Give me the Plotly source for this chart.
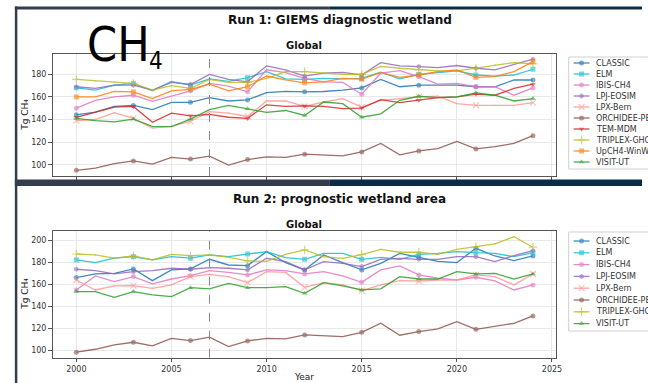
import plotly.graph_objects as go

# ---------------- data ----------------
years = [2000, 2001, 2002, 2003, 2004, 2005, 2006, 2007, 2008, 2009, 2010, 2011, 2012,
         2013, 2014, 2015, 2016, 2017, 2018, 2019, 2020, 2021, 2022, 2023, 2024]

run1_models = ["CLASSIC", "ELM", "IBIS-CH4", "LPJ-EOSIM", "LPX-Bern", "ORCHIDEE-PEAT",
               "TEM-MDM", "TRIPLEX-GHG", "UpCH4-WinWAD", "VISIT-UT"]
run2_models = ["CLASSIC", "ELM", "IBIS-CH4", "LPJ-EOSIM", "LPX-Bern", "ORCHIDEE-PEAT",
               "TRIPLEX-GHG", "VISIT-UT"]

run1_classic = [144.2, 146.6, 151.6, 152.5, 148.7, 155.2, 155.2, 159.4, 156.4, 157.3, 163.9, 165.0, 164.5,
                164.8, 166.0, 168.0, 175.5, 169.0, 170.4, 170.4, 170.4, 169.0, 169.0, 175.0, 175.0]
run1_elm = [168.0, 166.0, 170.4, 172.0, 165.4, 173.7, 170.4, 176.0, 173.7, 177.0, 182.4, 176.0, 175.5,
            176.4, 176.0, 176.4, 182.0, 176.0, 180.0, 181.8, 183.0, 179.4, 178.5, 179.4, 184.5]
run1_ibis = [150.0, 157.0, 160.0, 161.5, 156.0, 161.0, 165.4, 172.0, 169.5, 164.5, 184.0, 181.5, 176.4,
             173.4, 172.8, 162.4, 181.0, 183.3, 178.0, 171.3, 172.0, 169.0, 169.0, 161.5, 168.0]
run1_lpj = [169.0, 167.5, 170.4, 170.4, 166.0, 172.8, 171.0, 180.0, 175.5, 173.4, 187.5, 184.0, 178.5,
            181.0, 181.8, 179.4, 190.4, 187.5, 186.9, 186.0, 187.8, 185.4, 184.0, 188.4, 193.4]
run1_lpx = [139.0, 140.0, 146.0, 141.0, 132.5, 134.0, 138.5, 147.0, 145.7, 142.7, 156.4, 156.4, 151.6,
            155.5, 158.5, 151.0, 157.0, 158.5, 160.0, 160.6, 154.0, 152.5, 152.5, 152.5, 155.0]
run1_orchidee = [95.0, 97.0, 101.0, 103.3, 100.5, 106.4, 105.0, 107.5, 99.7, 104.5, 107.0, 106.4, 109.3,
                 108.7, 107.8, 111.3, 118.8, 108.7, 112.2, 114.3, 120.6, 114.0, 116.0, 118.8, 125.7]
run1_tem = [142.0, 146.6, 151.0, 151.6, 137.6, 145.7, 143.3, 144.5, 142.0, 141.0, 153.0, 151.6, 152.0,
            151.6, 149.6, 150.1, 157.6, 155.0, 157.0, 159.4, 160.0, 162.4, 161.5, 167.5, 171.3]
run1_triplex = [175.5, 174.3, 173.0, 172.0, 166.0, 170.0, 167.5, 175.5, 172.8, 172.8, 176.4, 182.4, 182.4,
                181.0, 180.0, 180.0, 187.0, 185.4, 184.0, 183.0, 183.0, 185.4, 188.4, 190.4, 189.3]
run1_upch4 = [160.0, 160.0, 165.0, 164.5, 158.5, 165.4, 166.6, 171.3, 165.4, 169.0, 178.5, 175.0, 172.5,
              173.4, 176.4, 175.8, 181.5, 177.3, 179.4, 182.4, 184.0, 177.3, 178.0, 182.4, 191.3]
run1_visit = [141.0, 139.0, 138.0, 140.4, 134.0, 133.7, 140.4, 148.7, 152.5, 149.6, 146.3, 148.0, 143.6,
              155.5, 154.0, 142.0, 145.0, 157.0, 160.6, 159.4, 160.0, 163.6, 161.5, 156.4, 158.5]

run2_classic = [166.3, 169.6, 170.2, 174.2, 163.5, 173.3, 174.2, 183.0, 177.8, 177.2, 190.0, 180.0, 173.3,
                187.0, 180.0, 173.3, 179.3, 188.4, 184.8, 181.0, 180.0, 193.0, 186.0, 181.8, 186.0]
run2_elm = [182.4, 180.0, 184.0, 185.4, 182.4, 185.4, 184.0, 187.0, 185.4, 187.8, 190.0, 184.5, 183.0,
            188.4, 188.4, 183.0, 184.8, 183.0, 187.5, 188.4, 190.0, 189.0, 188.4, 185.4, 189.0]
run2_ibis = [155.0, 167.8, 162.6, 167.2, 160.5, 165.0, 168.0, 172.6, 171.0, 168.7, 173.3, 172.6, 169.6,
             171.7, 167.8, 162.0, 173.3, 176.9, 168.7, 165.7, 164.1, 166.6, 163.2, 155.0, 159.6]
run2_lpj = [173.9, 172.6, 169.6, 171.7, 172.6, 174.8, 173.9, 175.4, 174.8, 173.3, 183.9, 180.9, 173.3,
            180.9, 179.3, 176.3, 183.0, 183.9, 183.0, 183.0, 185.4, 185.4, 180.9, 186.3, 190.9]
run2_lpx = [164.1, 155.0, 158.7, 159.0, 156.5, 159.6, 167.2, 169.3, 167.2, 161.7, 171.7, 171.0, 157.4,
            161.7, 159.6, 154.4, 159.6, 163.5, 163.2, 164.1, 164.1, 168.7, 167.2, 159.6, 169.6]
run2_orchidee = [98.2, 100.9, 104.9, 107.3, 104.0, 110.9, 108.8, 111.9, 103.3, 108.5, 110.9, 110.3, 114.0,
                 113.4, 112.5, 116.4, 124.6, 113.7, 117.0, 119.5, 126.0, 119.1, 121.6, 124.6, 131.3]
run2_triplex = [187.8, 187.0, 184.0, 186.0, 182.4, 187.5, 186.3, 187.0, 184.8, 181.5, 181.0, 187.5, 191.5,
                185.4, 183.9, 187.2, 192.0, 189.4, 189.4, 187.5, 192.0, 194.5, 197.0, 203.6, 194.0]
run2_visit = [153.5, 153.5, 148.3, 153.5, 150.5, 149.0, 157.1, 156.0, 161.0, 157.1, 157.1, 158.0, 152.0,
              161.7, 158.7, 155.0, 156.0, 167.2, 165.0, 165.0, 171.7, 169.6, 170.2, 165.0, 169.6]

run1_values = [run1_classic, run1_elm, run1_ibis, run1_lpj, run1_lpx, run1_orchidee,
               run1_tem, run1_triplex, run1_upch4, run1_visit]
run2_values = [run2_classic, run2_elm, run2_ibis, run2_lpj, run2_lpx, run2_orchidee,
               run2_triplex, run2_visit]

x_ticks = [2000, 2005, 2010, 2015, 2020, 2025]
y1_ticks = [100, 120, 140, 160, 180]
y2_ticks = [100, 120, 140, 160, 180, 200]
split_year = 2007
marker_every = 3

# ---------------- styles ----------------
colors = {"CLASSIC": "#1f77b4", "ELM": "#17becf", "IBIS-CH4": "#e377c2", "LPJ-EOSIM": "#9467bd",
          "LPX-Bern": "#ff9896", "ORCHIDEE-PEAT": "#8c564b", "TEM-MDM": "#d62728",
          "TRIPLEX-GHG": "#bcbd22", "UpCH4-WinWAD": "#ff7f0e", "VISIT-UT": "#2ca02c"}
symbols = {"CLASSIC": "circle", "ELM": "square", "IBIS-CH4": "circle", "LPJ-EOSIM": "hexagon",
           "LPX-Bern": "x-thin", "ORCHIDEE-PEAT": "circle", "TEM-MDM": "triangle-down",
           "TRIPLEX-GHG": "cross-thin", "UpCH4-WinWAD": "square", "VISIT-UT": "triangle-up"}

W, H = 648, 383
FONT = "DejaVu Sans"
GRAY_DARK = "#343d4c"
NAVY = "#0b2c47"


def px(x):
    return x / W


def py(y):
    return 1 - y / H


fig = go.Figure()

msizes = [5 if (yr - years[0]) % marker_every == 0 else 0 for yr in years]


def add_series(models, values, xa, ya):
    for m, v in zip(models, values):
        sym = symbols[m]
        thin = sym.endswith("thin")
        fig.add_trace(go.Scatter(
            x=years, y=v, mode="lines+markers", name=m, showlegend=False,
            xaxis=xa, yaxis=ya, opacity=0.85,
            line=dict(color=colors[m], width=1.3),
            marker=dict(symbol=sym, size=[s + (1 if thin else 0) for s in msizes],
                        color=colors[m],
                        line=dict(color=colors[m], width=1.2 if thin else 0)),
            hoverinfo="skip"))


add_series(run1_models, run1_values, "x", "y")
add_series(run2_models, run2_values, "x2", "y2")

# ---------------- custom legends (pixel-space overlay axis) ----------------
def add_legend(models, y0, step):
    for i, m in enumerate(models):
        yy = y0 + i * step
        sym = symbols[m]
        thin = sym.endswith("thin")
        fig.add_trace(go.Scatter(
            x=[579, 587, 595], y=[yy, yy, yy], mode="lines+markers", showlegend=False,
            xaxis="x3", yaxis="y3", opacity=0.85, hoverinfo="skip",
            line=dict(color=colors[m], width=1.3),
            marker=dict(symbol=sym, size=[0, 5 + (1 if thin else 0), 0], color=colors[m],
                        line=dict(color=colors[m], width=1.2 if thin else 0))))
        fig.add_annotation(x=600, y=yy, xref="x3", yref="y3", text=m, showarrow=False,
                           xanchor="left", yanchor="middle",
                           font=dict(family=FONT, size=8, color="#333333"))


add_legend(run1_models, 63, 11)
add_legend(run2_models, 241, 11.8)

# ---------------- axes ----------------
axis_common = dict(showline=True, mirror=True, linecolor="#555555", linewidth=1,
                   showgrid=True, gridcolor="#e8e8e8", gridwidth=0.8, zeroline=False,
                   ticks="outside", ticklen=3.5, tickcolor="#555555",
                   tickfont=dict(family=FONT, size=8, color="#333333"))

xdom = [px(53), px(561)]
fig.update_layout(
    width=W, height=H, margin=dict(l=0, r=0, t=0, b=0),
    paper_bgcolor="white", plot_bgcolor="rgba(0,0,0,0)",
    showlegend=False,
    xaxis=dict(domain=xdom, range=[1998.75, 2025.2], tickvals=x_ticks, showticklabels=False,
               anchor="y", **axis_common),
    yaxis=dict(domain=[py(176), py(54)], range=[90, 198], tickvals=y1_ticks, anchor="x",
               **axis_common),
    xaxis2=dict(domain=xdom, range=[1998.75, 2025.2], tickvals=x_ticks, anchor="y2",
                **axis_common),
    yaxis2=dict(domain=[py(357.7), py(231)], range=[93.2, 208.8], tickvals=y2_ticks, anchor="x2",
                **axis_common),
    xaxis3=dict(domain=[0, 1], range=[0, W], visible=False, anchor="y3", fixedrange=True),
    yaxis3=dict(domain=[0, 1], range=[H, 0], visible=False, anchor="x3", fixedrange=True),
)

# dashed split line
for ya in ["y", "y2"]:
    xa = "x" if ya == "y" else "x2"
    fig.add_shape(type="line", xref=xa, yref=f"{ya} domain", x0=split_year, x1=split_year,
                  y0=0, y1=1, line=dict(color="#888888", width=1, dash="dash"), layer="above")

# legend boxes
fig.add_shape(type="rect", xref="paper", yref="paper", x0=px(574), x1=px(660), y0=py(169), y1=py(57),
              line=dict(color="#d0d0d0", width=1), fillcolor="rgba(255,255,255,0.8)", layer="below")
fig.add_shape(type="rect", xref="paper", yref="paper", x0=px(574), x1=px(660), y0=py(331), y1=py(232),
              line=dict(color="#d0d0d0", width=1), fillcolor="rgba(255,255,255,0.8)", layer="below")

# frame strips
frame = [
    (15, 333, 6.5, 9.5, GRAY_DARK), (333, W, 6.5, 9.5, NAVY),
    (15, 17.5, 6.5, H, GRAY_DARK),
    (15, 333, 179.5, 186, GRAY_DARK), (333, W, 179.5, 186, NAVY),
]
for x0, x1, y0, y1, c in frame:
    fig.add_shape(type="rect", xref="paper", yref="paper", x0=px(x0), x1=px(x1), y0=py(y1), y1=py(y0),
                  line=dict(width=0), fillcolor=c, layer="above")

# texts
def ann(x, y, text, size, bold=False, family=FONT, angle=0, color="#111111", xanchor="center"):
    fig.add_annotation(x=px(x), y=py(y), xref="paper", yref="paper", showarrow=False,
                       text=f"<b>{text}</b>" if bold else text, textangle=angle,
                       xanchor=xanchor, yanchor="middle",
                       font=dict(family=family, size=size, color=color))


ann(343, 20, "Run 1: GIEMS diagnostic wetland", 12, bold=True)
ann(307, 45, "Global", 10, bold=True)
ann(343, 199, "Run 2: prognostic wetland area", 12, bold=True)
ann(307, 224, "Global", 10, bold=True)
ann(25, 115, "Tg CH₄", 9, angle=-90, color="#222222")
ann(25, 294, "Tg CH₄", 9, angle=-90, color="#222222")
ann(307, 377, "Year", 9, color="#222222")

big_font = "Liberation Sans Narrow, DejaVu Sans Condensed, Liberation Sans, Arial, sans-serif"
ann(86, 44, "CH", 48, family=big_font, color="#000000", xanchor="left")
ann(148, 61, "4", 24, family=big_font, color="#000000", xanchor="left")

fig.write_html("out.html", config={"displayModeBar": False},
               post_script="document.body.style.margin='0';document.body.style.padding='0';")
